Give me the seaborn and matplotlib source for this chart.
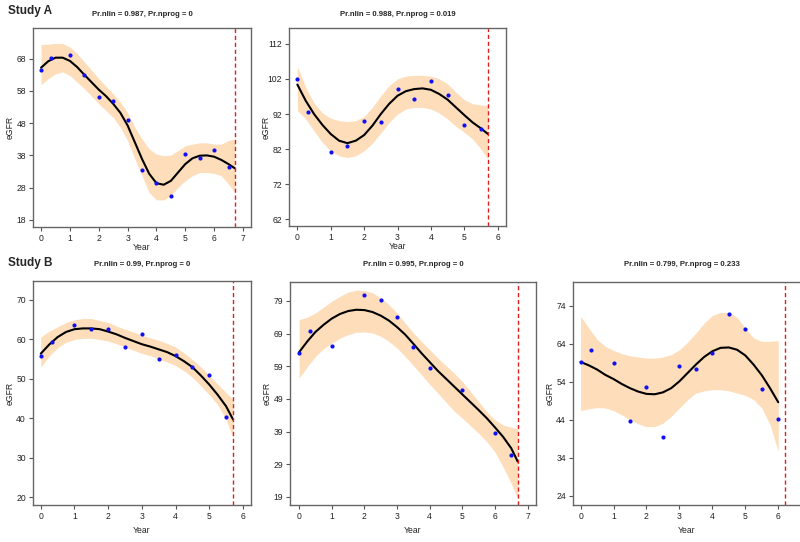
import numpy as np
import pandas as pd
import matplotlib.pyplot as plt
import seaborn as sns

sns.set_style("white")
plt.rcParams['font.family'] = ['Liberation Sans', 'DejaVu Sans']

# observed eGFR by year
a1_year = [0, 0.33, 1, 1.5, 2, 2.5, 3, 3.5, 4, 4.5, 5, 5.5, 6, 6.5]
a1_egfr = [64.5, 68.3, 69.1, 63.0, 56.1, 54.9, 49.0, 33.6, 29.3, 25.5, 38.4, 37.3, 39.8, 34.4]
a2_year = [0, 0.33, 1, 1.5, 2, 2.5, 3, 3.5, 4, 4.5, 5, 5.5]
a2_egfr = [101.9, 92.7, 81.3, 83.0, 89.9, 89.7, 99.2, 96.3, 101.4, 97.3, 89.0, 87.7]
b1_year = [0, 0.33, 1, 1.5, 2, 2.5, 3, 3.5, 4, 4.5, 5, 5.5]
b1_egfr = [55.8, 59.2, 63.6, 62.6, 62.5, 57.9, 61.3, 55.0, 56.0, 52.9, 50.9, 40.2]
b2_year = [0, 0.33, 1, 2, 2.5, 3, 3.5, 4, 5, 6, 6.5]
b2_egfr = [63.0, 69.9, 65.3, 80.7, 79.4, 74.2, 64.8, 58.6, 51.6, 38.4, 31.8]
b3_year = [0, 0.33, 1, 1.5, 2, 2.5, 3, 3.5, 4, 4.5, 5, 5.5, 6]
b3_egfr = [59.2, 62.3, 58.9, 43.7, 52.6, 39.4, 58.0, 57.4, 61.6, 71.8, 67.8, 52.2, 44.3]

a1_grid = [0, 0.25, 0.5, 0.75, 1, 1.25, 1.5, 1.75, 2, 2.25, 2.5, 2.75, 3, 3.25, 3.5,
           3.75, 4, 4.25, 4.5, 4.75, 5, 5.25, 5.5, 5.75, 6, 6.25, 6.5, 6.72]
a1_fit = [65.2, 67.2, 68.3, 68.3, 67.3, 65.4, 63.0, 60.7, 58.4, 56.4, 54.0, 51.2, 47.3, 42.1,
          36.9, 32.3, 29.4, 28.9, 30.1, 32.7, 35.3, 37.1, 37.9, 38.0, 37.6, 36.6, 35.3, 34.0]
a1_hi = [72.4, 72.5, 72.7, 72.7, 71.6, 69.6, 67.0, 64.4, 61.8, 59.4, 57.1, 54.5, 51.2, 46.7,
         43.1, 40.0, 38.4, 37.9, 38.1, 39.5, 41.0, 41.5, 41.9, 41.9, 41.5, 41.5, 42.6, 43.1]
a1_lo = [59.9, 61.8, 63.3, 63.9, 62.8, 60.7, 58.7, 56.4, 54.0, 51.9, 49.8, 46.7, 42.6, 36.9,
         31.7, 26.5, 24.2, 24.2, 25.5, 28.1, 30.1, 31.7, 32.7, 32.7, 32.4, 31.7, 29.1, 26.5]

a2_grid = [0, 0.25, 0.5, 0.75, 1, 1.25, 1.5, 1.75, 2, 2.25, 2.5, 2.75, 3, 3.25, 3.5,
           3.75, 4, 4.25, 4.5, 4.75, 5, 5.25, 5.5, 5.71]
a2_fit = [100.4, 95.8, 92.0, 88.9, 86.3, 84.4, 83.7, 84.4, 86.0, 88.7, 92.0, 94.9, 97.2, 98.5,
          99.1, 99.3, 98.9, 97.7, 96.1, 93.9, 91.7, 89.6, 87.9, 86.3]
a2_hi = [105.6, 99.6, 95.1, 92.3, 90.8, 90.1, 89.8, 90.1, 91.3, 93.9, 97.2, 100.1, 102.0, 102.8,
         103.0, 103.0, 102.8, 102.0, 100.6, 98.2, 96.1, 94.9, 94.6, 94.4]
a2_lo = [93.0, 90.6, 87.2, 83.9, 81.5, 80.1, 79.6, 80.1, 81.5, 83.7, 86.6, 89.6, 92.0, 93.4,
         93.9, 93.9, 93.4, 92.3, 90.6, 88.5, 86.8, 84.9, 82.0, 79.1]

b1_grid = a2_grid
b1_fit = [56.3, 58.6, 60.5, 61.8, 62.5, 62.7, 62.7, 62.5, 61.9, 61.2, 60.3, 59.5, 58.7, 58.1,
          57.4, 56.7, 55.7, 54.4, 52.9, 50.8, 48.5, 45.9, 43.0, 39.6]
b1_hi = [60.5, 62.0, 63.1, 64.2, 64.9, 65.2, 65.2, 64.7, 64.2, 63.3, 62.5, 61.8, 61.0, 60.3,
         59.7, 58.9, 58.0, 56.5, 54.8, 53.0, 50.8, 48.6, 46.4, 44.7]
b1_lo = [52.9, 55.7, 57.8, 59.2, 59.9, 60.2, 60.2, 59.9, 59.5, 58.8, 58.0, 57.2, 56.4, 55.8,
         55.0, 54.2, 53.3, 52.0, 50.3, 48.2, 45.9, 43.4, 39.6, 34.9]

b2_grid = [0, 0.25, 0.5, 0.75, 1, 1.25, 1.5, 1.75, 2, 2.25, 2.5, 2.75, 3, 3.25, 3.5,
           3.75, 4, 4.25, 4.5, 4.75, 5, 5.25, 5.5, 5.75, 6, 6.25, 6.5, 6.7]
b2_fit = [63.3, 66.6, 69.5, 71.7, 73.6, 75.0, 75.9, 76.3, 76.2, 75.6, 74.5, 73.0, 71.0, 68.7,
          65.9, 63.0, 60.3, 57.6, 55.2, 52.8, 50.4, 48.0, 45.6, 43.1, 40.3, 37.4, 33.9, 29.8]
b2_hi = [73.3, 74.0, 75.3, 77.1, 78.9, 80.4, 81.7, 82.3, 82.2, 81.5, 79.9, 77.9, 75.3, 72.2,
         69.2, 66.6, 64.1, 61.5, 59.2, 56.9, 54.3, 51.3, 48.2, 45.1, 42.6, 41.0, 40.3, 39.8]
b2_lo = [55.4, 58.9, 62.0, 64.4, 66.1, 67.6, 68.7, 69.4, 69.5, 69.2, 68.2, 66.6, 64.6, 62.0,
         59.2, 56.4, 53.5, 50.8, 48.0, 45.3, 43.1, 40.8, 38.5, 35.9, 32.8, 28.2, 23.1, 18.5]

b3_grid = [0, 0.25, 0.5, 0.75, 1, 1.25, 1.5, 1.75, 2, 2.25, 2.5, 2.75, 3, 3.25, 3.5,
           3.75, 4, 4.25, 4.5, 4.75, 5, 5.25, 5.5, 5.75, 6]
b3_fit = [59.2, 58.3, 57.2, 55.8, 54.7, 53.4, 52.3, 51.4, 50.8, 50.7, 51.2, 52.3, 54.1, 56.3,
          58.5, 60.5, 62.0, 62.9, 63.0, 62.4, 60.9, 58.5, 55.7, 52.3, 48.6]
b3_hi = [71.2, 68.1, 65.1, 63.3, 62.2, 61.4, 60.8, 60.5, 60.2, 60.2, 60.5, 61.1, 62.4, 64.4,
         66.8, 69.4, 71.4, 72.2, 72.2, 70.9, 68.1, 65.5, 64.6, 64.6, 64.8]
b3_lo = [46.4, 46.9, 47.2, 47.1, 46.4, 45.3, 44.0, 42.9, 42.2, 42.2, 43.1, 44.9, 47.1, 49.3,
         51.0, 51.6, 51.9, 51.9, 51.6, 51.0, 50.4, 49.3, 47.1, 42.7, 35.7]

titles = ["Pr.nlin = 0.987, Pr.nprog = 0", "Pr.nlin = 0.988, Pr.nprog = 0.019",
          "Pr.nlin = 0.99, Pr.nprog = 0", "Pr.nlin = 0.995, Pr.nprog = 0",
          "Pr.nlin = 0.799, Pr.nprog = 0.233"]
end_year = [6.72, 5.71, 5.71, 6.7, 6.2]
yticks = [np.arange(18, 69, 10), np.arange(62, 113, 10), np.arange(20, 71, 10),
          np.arange(19, 80, 10), np.arange(24, 75, 10)]
xticks = [range(8), range(7), range(7), range(8), range(7)]

panels = [
    (a1_year, a1_egfr, a1_grid, a1_fit, a1_lo, a1_hi),
    (a2_year, a2_egfr, a2_grid, a2_fit, a2_lo, a2_hi),
    (b1_year, b1_egfr, b1_grid, b1_fit, b1_lo, b1_hi),
    (b2_year, b2_egfr, b2_grid, b2_fit, b2_lo, b2_hi),
    (b3_year, b3_egfr, b3_grid, b3_fit, b3_lo, b3_hi),
]

# pixel boxes (left, right, top, bottom) and axis limits
boxes = [(33, 251, 28, 227), (289, 506, 28, 226), (33, 251, 281, 505),
         (290, 536, 282, 505), (573, 801, 282, 505)]
xlims = [(-0.28, 7.28), (-0.25, 6.25), (-0.23, 6.24), (-0.28, 7.26), (-0.23, 6.69)]
ylims = [(15.8, 77.5), (60.1, 116.5), (18.0, 74.7), (16.5, 84.8), (21.6, 80.2)]
xlab_gap = [16, 16, 21, 21, 21]
title_gap = [13, 13, 17, 17, 17]

W, H = 800, 542
fig = plt.figure(figsize=(8, 5.42), dpi=100)

for i, (yr, eg, grid, fit, lo, hi) in enumerate(panels):
    l, r, t, b = boxes[i]
    w, h = r - l, b - t
    ax = fig.add_axes([l / W, 1 - b / H, w / W, h / H])
    ax.fill_between(grid, lo, hi, color="#FDDDBA", lw=0)
    df = pd.DataFrame({"Year": grid, "eGFR": fit})
    sns.lineplot(data=df, x="Year", y="eGFR", ax=ax, color="black", lw=1.5)
    obs = pd.DataFrame({"Year": yr, "eGFR": eg})
    sns.scatterplot(data=obs, x="Year", y="eGFR", ax=ax, color="#1010F0",
                    s=9, marker="o", linewidth=0, zorder=5)
    ax.axvline(end_year[i], color="#E02020", ls=(0, (3, 2)), lw=1)
    ax.set_xlim(*xlims[i])
    ax.set_ylim(*ylims[i])
    ax.set_xticks(list(xticks[i]))
    ax.set_yticks(yticks[i])
    ax.tick_params(axis="both", labelsize=6.2, length=3, width=0.8, color="#555555",
                   labelcolor="#222222", pad=2)
    ax.tick_params(left=True, bottom=True)
    ax.set_xlabel("Year", fontsize=6.2, color="#222222")
    ax.set_ylabel("eGFR", fontsize=6.2, color="#222222")
    ax.xaxis.set_label_coords(0.5, -xlab_gap[i] / h)
    ax.yaxis.set_label_coords(-18 / w, 0.5)
    for s in ax.spines.values():
        s.set_color("#666666")
        s.set_linewidth(1)
    if i == 4:
        ax.spines["right"].set_visible(False)
    cx = (l + min(r, 790)) / 2 / W
    fig.text(cx, 1 - (t - title_gap[i]) / H, titles[i], ha="center", va="center",
             fontsize=5.6, fontweight="bold")

fig.text(8 / W, 1 - 11 / H, "Study A", fontsize=8.5, fontweight="bold", va="center")
fig.text(8 / W, 1 - 263 / H, "Study B", fontsize=8.5, fontweight="bold", va="center")

plt.savefig("out.png", dpi=100)
